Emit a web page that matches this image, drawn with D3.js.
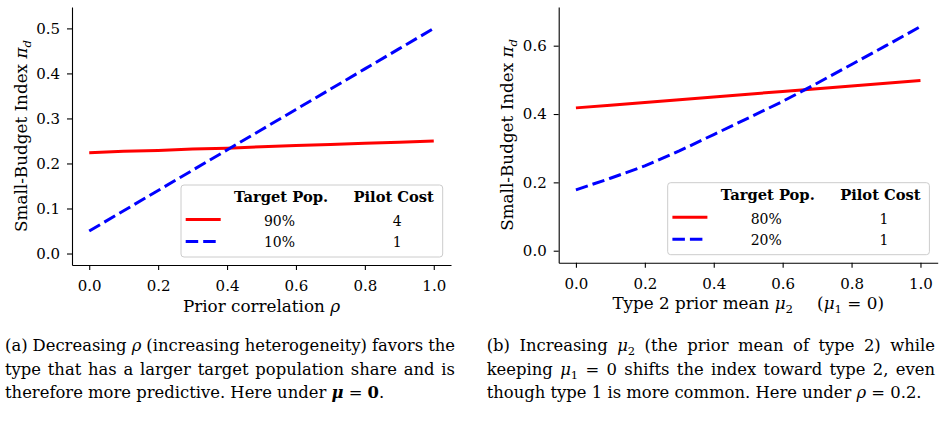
<!DOCTYPE html>
<html>
<head>
<meta charset="utf-8">
<script src="https://cdn.jsdelivr.net/npm/d3@7"></script>
<style>
body { margin: 0; background: #fff; }
svg text { font-family: "DejaVu Serif", serif; fill: #000; }
</style>
</head>
<body>
<div id="chart"></div>
<script>
// x grid used by both panels
var xGrid = [0.0, 0.1, 0.2, 0.3, 0.4, 0.5, 0.6, 0.7, 0.8, 0.9, 1.0];

// panel (a): index vs prior correlation rho
var rhoRed = [0.224, 0.227, 0.229, 0.232, 0.234, 0.237, 0.240, 0.242, 0.245, 0.247, 0.250];
var rhoBlue = [0.050, 0.095, 0.140, 0.185, 0.230, 0.275, 0.320, 0.365, 0.410, 0.455, 0.500];

// panel (b): index vs type 2 prior mean mu2
var muRed = [0.418, 0.426, 0.434, 0.442, 0.450, 0.458, 0.466, 0.474, 0.482, 0.490, 0.498];
var muBlue = [0.178, 0.212, 0.248, 0.292, 0.340, 0.388, 0.437, 0.490, 0.545, 0.600, 0.656];

// ticks
var xTicks = [0, 0.2, 0.4, 0.6, 0.8, 1.0];
var yTicksA = [0, 0.1, 0.2, 0.3, 0.4, 0.5];
var yTicksB = [0, 0.2, 0.4, 0.6];

// legend table
var legendHead = ["Target Pop.", "Pilot Cost"];
var legendA = [["90%", "4"], ["10%", "1"]];
var legendB = [["80%", "1"], ["20%", "1"]];

// captions, one array of [text, style] parts per line
var capA = [
  [["(a) Decreasing "], ["\u03c1", "i"], [" (increasing heterogeneity) favors the"]],
  [["type that has a larger target population share and is"]],
  [["therefore more predictive. Here under "], ["\u03bc", "bi"], [" = "], ["0", "b"], ["."]]
];
var capB = [
  [["(b) Increasing "], ["\u03bc", "i"], ["2", "s"], [" (the prior mean of type 2) while"]],
  [["keeping "], ["\u03bc", "i"], ["1", "s"], [" = 0 shifts the index toward type 2, even"]],
  [["though type 1 is more common. Here under "], ["\u03c1", "i"], [" = 0.2."]]
];

var svgWidth = 949;
var svgHeight = 429;

var svg = d3.select("#chart")
  .append("svg")
  .attr("width", svgWidth)
  .attr("height", svgHeight);

// write mixed italic / bold / subscript text into a text element
function addParts(textSel, parts) {
  var shifted = false;
  parts.forEach(function(p) {
    var s = p[1] || "";
    var t = textSel.append("tspan").text(p[0]);
    if (p[2]) t.attr("dx", p[2]);
    if (s.indexOf("i") >= 0) t.attr("font-style", "italic");
    if (s.indexOf("b") >= 0) t.attr("font-weight", "bold");
    if (s.indexOf("s") >= 0) {
      t.attr("font-size", "0.7em").attr("dy", 4);
      shifted = true;
    } else if (shifted) {
      t.attr("dy", -4);
      shifted = false;
    }
  });
  return textSel;
}

function drawPanel(o) {
  var x = d3.scaleLinear().domain([-0.05, 1.05]).range([o.left, o.right]);
  var y = d3.scaleLinear().domain(o.yDomain).range([o.bottom, o.top]);

  var g = svg.append("g");

  var xAxis = g.append("g")
    .attr("transform", `translate(0, ${o.bottom})`)
    .call(d3.axisBottom(x).tickValues(xTicks).tickFormat(d3.format(".1f"))
      .tickSize(5).tickSizeOuter(0).tickPadding(10.5));
  var yAxis = g.append("g")
    .attr("transform", `translate(${o.left}, 0)`)
    .call(d3.axisLeft(y).tickValues(o.yTicks).tickFormat(d3.format(".1f"))
      .tickSize(5).tickSizeOuter(0).tickPadding(7));
  [xAxis, yAxis].forEach(function(a) {
    a.attr("font-size", 15);
    a.selectAll("path, line").attr("stroke", "#000").attr("stroke-width", 1.1);
  });

  var line = d3.line()
    .x(function(d) { return x(d[0]); })
    .y(function(d) { return y(d[1]); });

  o.series.forEach(function(s) {
    g.append("path")
      .datum(xGrid.map(function(v, i) { return [v, s.values[i]]; }))
      .attr("d", line)
      .attr("fill", "none")
      .attr("stroke", s.color)
      .attr("stroke-width", 3)
      .attr("stroke-dasharray", s.dash);
  });

  // axis labels
  addParts(g.append("text")
    .attr("x", (o.left + o.right) / 2)
    .attr("y", o.bottom + 46.5)
    .attr("text-anchor", "middle")
    .attr("font-size", 16.8), o.xLabel);

  addParts(g.append("text")
    .attr("transform", `translate(${o.left - 45.3}, ${(o.top + o.bottom) / 2}) rotate(-90)`)
    .attr("text-anchor", "middle")
    .attr("font-size", 16.8), [["Small-Budget Index "], ["\u03c0", "i"], ["d", "is"]]);

  // legend table
  var lw = 261.7, lh = 72;
  var lx = o.right - 8.3 - lw;
  var ly = o.bottom - 8 - lh;
  var leg = g.append("g").attr("transform", `translate(${lx}, ${ly})`);
  leg.append("rect")
    .attr("width", lw).attr("height", lh)
    .attr("rx", 3)
    .attr("fill", "#fff").attr("fill-opacity", 0.8)
    .attr("stroke", "#cccccc").attr("stroke-width", 1);

  var headX = [100, 212.7];
  var valX = [98.5, 216.3];
  legendHead.forEach(function(h, i) {
    leg.append("text")
      .attr("x", headX[i]).attr("y", 17)
      .attr("text-anchor", "middle")
      .attr("font-weight", "bold")
      .attr("font-size", 14.7)
      .text(h);
  });
  var rowY = [41.2, 62.2];
  var handleY = [34.5, 56.6];
  o.legendRows.forEach(function(r, i) {
    var s = o.series[i];
    leg.append("line")
      .attr("x1", 4.7).attr("x2", 39.7)
      .attr("y1", handleY[i]).attr("y2", handleY[i])
      .attr("stroke", s.color)
      .attr("stroke-width", 3)
      .attr("stroke-dasharray", s.dash);
    r.forEach(function(v, j) {
      leg.append("text")
        .attr("x", valX[j]).attr("y", rowY[i])
        .attr("text-anchor", "middle")
        .attr("font-size", 14)
        .text(v);
    });
  });

  // caption, first lines justified
  var capY = [351, 374.5, 398];
  o.caption.forEach(function(parts, i) {
    var t = addParts(svg.append("text")
      .attr("x", o.capLeft)
      .attr("y", capY[i])
      .attr("font-size", 16.4), parts);
    if (i < o.caption.length - 1) {
      var natural = t.node().getComputedTextLength();
      var spaces = parts.map(function(p) { return p[0]; }).join("").split(" ").length - 1;
      t.attr("word-spacing", (o.capWidth - natural) / spaces);
    }
  });
}

drawPanel({
  left: 72, right: 451, top: 7, bottom: 265,
  yDomain: [-0.0255, 0.5475],
  yTicks: yTicksA,
  series: [
    { values: rhoRed, color: "#ff0000", dash: null },
    { values: rhoBlue, color: "#0000ff", dash: "12.5,5" }
  ],
  legendRows: legendA,
  xLabel: [["Prior correlation "], ["\u03c1", "i"]],
  caption: capA, capLeft: 5, capWidth: 450
});

drawPanel({
  left: 558.7, right: 937.7, top: 7, bottom: 262.7,
  yDomain: [-0.0351, 0.7132],
  yTicks: yTicksB,
  series: [
    { values: muRed, color: "#ff0000", dash: null },
    { values: muBlue, color: "#0000ff", dash: "12.5,5" }
  ],
  legendRows: legendB,
  xLabel: [["Type 2 prior mean "], ["\u03bc", "i"], ["2", "s"], ["(", "", 24], ["\u03bc", "i"], ["1", "s"], [" = 0)"]],
  caption: capB, capLeft: 486.7, capWidth: 448.3
});
</script>
</body>
</html>
